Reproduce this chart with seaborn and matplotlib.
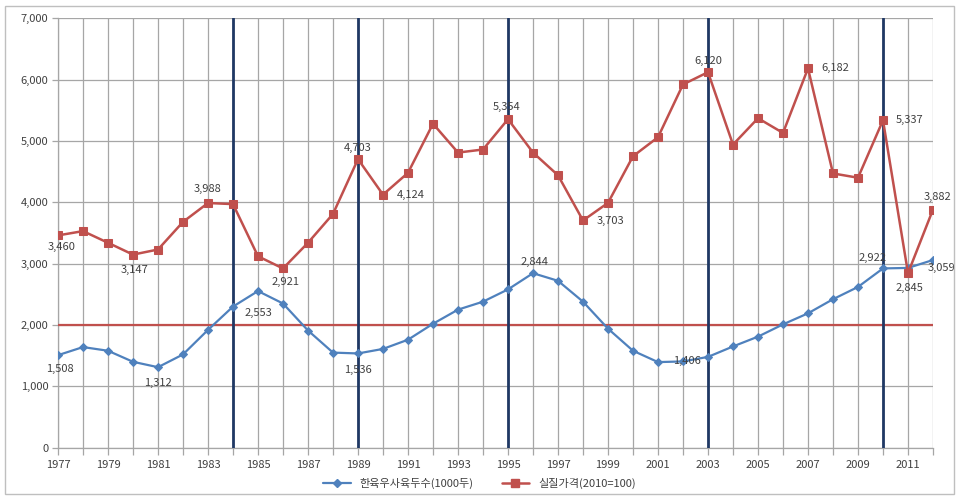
import numpy as np
import pandas as pd
import matplotlib
matplotlib.use("Agg")
import matplotlib.pyplot as plt
from matplotlib.lines import Line2D
from matplotlib.patches import Rectangle
import seaborn as sns

# ---- data -------------------------------------------------------------
years = list(range(1977, 2013))

cattle_heads = [1508, 1640, 1580, 1400, 1312, 1520, 1920, 2300, 2553, 2350,
                1910, 1550, 1536, 1610, 1760, 2020, 2250, 2380, 2580, 2844,
                2720, 2380, 1940, 1580, 1395, 1406, 1480, 1650, 1810, 2010,
                2190, 2420, 2620, 2922, 2930, 3059]

real_price = [3460, 3530, 3340, 3147, 3230, 3680, 3988, 3970, 3120, 2921,
              3340, 3810, 4703, 4124, 4480, 5280, 4810, 4860, 5354, 4810,
              4440, 3703, 3990, 4750, 5060, 5920, 6120, 4940, 5370, 5130,
              6182, 4470, 4400, 5337, 2845, 3882]

series_names = ["한육우사육두수(1000두)", "실질가격(2010=100)"]
reference_level = 2000
marked_years = [1984, 1989, 1995, 2003, 2010]

# labelled points: (year, offset_x px, offset_y px, ha, va)
cattle_labels = [(1977, 2, -14, "center", "center"),
                 (1981, 0, -16, "center", "center"),
                 (1985, 0, -22, "center", "center"),
                 (1989, 0, -17, "center", "center"),
                 (1996, 2, 11, "center", "center"),
                 (2002, 4, 0, "center", "center"),
                 (2010, -10, 10, "center", "center"),
                 (2012, 9, -8, "center", "center")]
price_labels = [(1977, 4, -12, "center", "center"),
                (1980, 2, -15, "center", "center"),
                (1983, 0, 14, "center", "center"),
                (1986, 3, -14, "center", "center"),
                (1989, 0, 11, "center", "center"),
                (1990, 28, 0, "center", "center"),
                (1995, -1, 12, "center", "center"),
                (1998, 27, 0, "center", "center"),
                (2003, 0, 11, "center", "center"),
                (2007, 27, 0, "center", "center"),
                (2010, 27, 0, "center", "center"),
                (2011, 1, -15, "center", "center"),
                (2012, 5, 13, "center", "center")]

# ---- styling ----------------------------------------------------------
sns.set_theme(style="white")
plt.rcParams["font.family"] = ["Noto Sans CJK KR", "DejaVu Sans"]

blue = "#4F81BD"
red = "#C0504D"
navy = "#1F3864"
grid_c = "#A6A6A6"
text_c = "#404040"

df_cattle = pd.DataFrame({"year": years, "value": cattle_heads})
df_price = pd.DataFrame({"year": years, "value": real_price})

fig = plt.figure(figsize=(9.59, 4.97), dpi=100)
ax = fig.add_axes([58 / 959, 1 - 447.7 / 497, (933 - 58) / 959, (447.7 - 18.2) / 497])

# grid
for y in years:
    ax.axvline(y, color=grid_c, lw=0.9, zorder=0)
for v in range(0, 7001, 1000):
    ax.axhline(v, color=grid_c, lw=0.9, zorder=0)

sns.lineplot(data=df_cattle, x="year", y="value", ax=ax, color=blue, lw=1.6,
             marker="D", markersize=4.5, markeredgecolor=blue, zorder=4)
sns.lineplot(data=df_price, x="year", y="value", ax=ax, color=red, lw=1.8,
             marker="s", markersize=6, markeredgecolor=red, zorder=5)

ax.axhline(reference_level, color=red, lw=1.6, zorder=3)
for y in marked_years:
    ax.axvline(y, color=navy, lw=2.0, zorder=3)

ax.set_xlim(years[0], years[-1])
ax.set_ylim(0, 7000)
ax.set_xlabel("")
ax.set_ylabel("")
ax.set_yticks(range(0, 7001, 1000))
ax.set_yticklabels([f"{v:,}" for v in range(0, 7001, 1000)], fontsize=8, color=text_c)
ax.set_xticks(years)
ax.set_xticklabels([str(y) if (y - years[0]) % 2 == 0 else "" for y in years],
                   fontsize=8, color=text_c)
ax.tick_params(axis="x", direction="out", length=5, width=0.9, color=grid_c, pad=4, bottom=True)
ax.tick_params(axis="y", direction="out", length=4, width=0.9, color=grid_c, pad=3, left=True)
for side in ["top", "right"]:
    ax.spines[side].set_visible(False)
for side in ["left", "bottom"]:
    ax.spines[side].set_color(grid_c)
    ax.spines[side].set_linewidth(0.9)

def annotate(values, specs):
    for yr, dx, dy, ha, va in specs:
        v = values[years.index(yr)]
        ax.annotate(f"{v:,}", xy=(yr, v), xytext=(dx * 0.72, dy * 0.72),
                    textcoords="offset points", ha=ha, va=va,
                    fontsize=8, color=text_c, zorder=6)

annotate(cattle_heads, cattle_labels)
annotate(real_price, price_labels)

handles = [Line2D([], [], color=blue, lw=1.6, marker="D", markersize=4.5),
           Line2D([], [], color=red, lw=1.8, marker="s", markersize=6)]
fig.legend(handles, series_names, loc="center", bbox_to_anchor=(0.5, 1 - 483 / 497),
           ncol=2, frameon=False, fontsize=8, handlelength=2.5, columnspacing=2.5,
           labelcolor=text_c)

fig.patches.append(Rectangle((5 / 959, 3 / 497), 949 / 959, 488 / 497,
                             transform=fig.transFigure, fill=False,
                             edgecolor="#BFBFBF", lw=1.0))

fig.savefig("out.png", dpi=100)
